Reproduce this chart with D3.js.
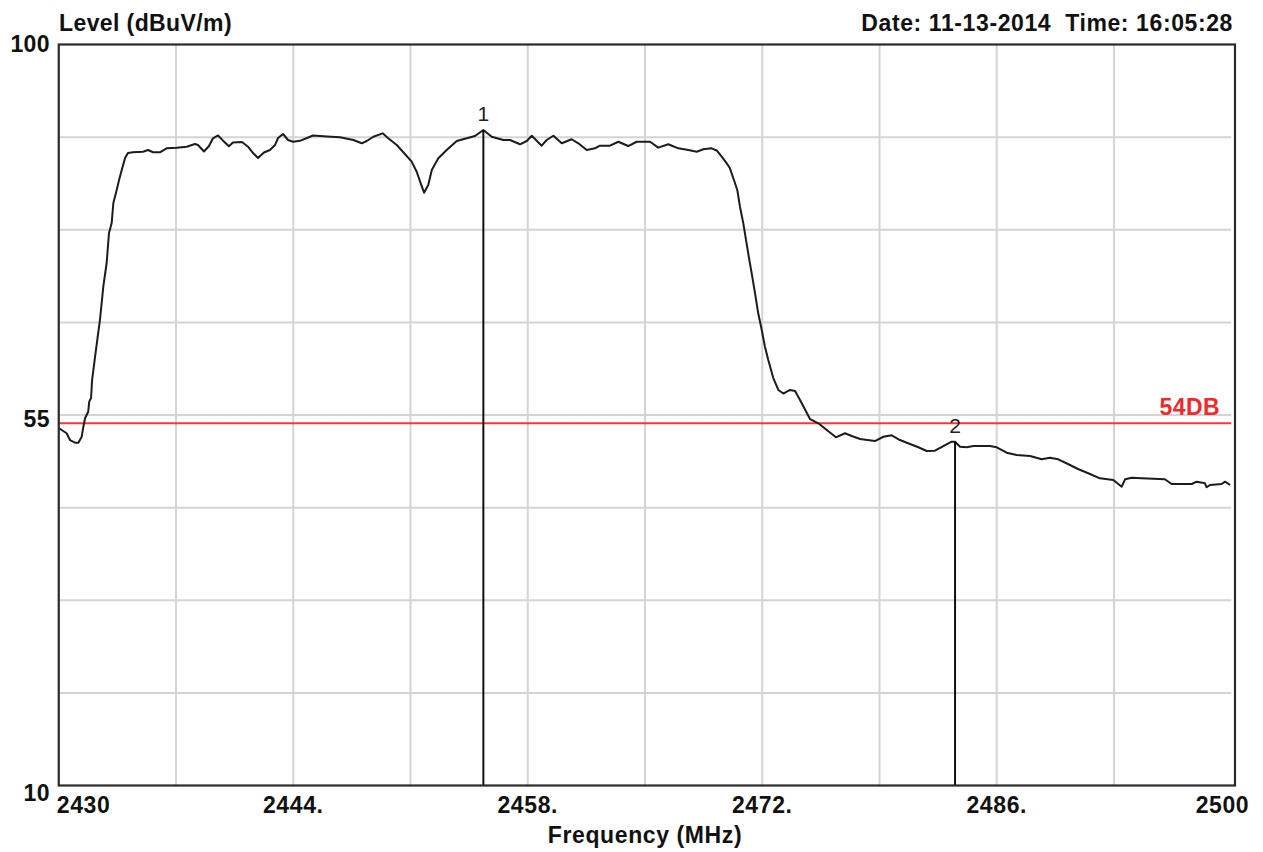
<!DOCTYPE html>
<html>
<head>
<meta charset="utf-8">
<script src="https://cdn.jsdelivr.net/npm/d3@7"></script>
<style>
  html, body { margin: 0; padding: 0; background: #fff; }
  svg { display: block; }
  text { font-family: "Liberation Sans", Arial, sans-serif; }
</style>
</head>
<body>
<svg id="chart" width="1263" height="852"></svg>
<script>
// ---- data ----
const freq = [
  2430.01,2430.13,2430.47,2430.67,2430.97,2431.17,2431.37,2431.47,2431.57,2431.76,
  2431.82,2431.93,2431.99,2432.22,2432.46,2432.66,2432.86,2433.00,2433.16,2433.26,
  2433.46,2433.60,2433.76,2433.96,2434.13,2434.43,2435.03,2435.33,2435.63,2436.04,
  2436.44,2437.04,2437.64,2438.13,2438.31,2438.67,2438.97,2439.21,2439.51,2439.81,
  2440.16,2440.40,2440.94,2441.30,2441.60,2441.90,2442.25,2442.61,2442.91,2443.09,
  2443.39,2443.69,2443.99,2444.40,2444.82,2445.18,2446.01,2446.79,2447.59,2448.09,
  2448.39,2448.78,2449.34,2449.67,2450.18,2450.57,2451.07,2451.37,2451.61,2451.81,
  2452.06,2452.27,2452.66,2453.16,2453.76,2454.36,2454.85,2455.35,2455.85,2456.54,
  2456.94,2457.54,2457.94,2458.24,2458.83,2459.13,2459.53,2460.03,2460.62,2461.02,
  2461.52,2462.01,2462.31,2462.91,2463.41,2464.00,2464.50,2465.30,2465.79,2466.39,
  2466.99,2467.59,2468.09,2468.48,2468.98,2469.28,2469.58,2469.88,2470.07,2470.31,
  2470.51,2470.67,2470.87,2471.03,2471.23,2471.37,2471.57,2471.76,2471.97,2472.16,
  2472.36,2472.66,2472.96,2473.26,2473.66,2473.96,2474.36,2474.85,2475.35,2475.85,
  2476.40,2476.94,2477.34,2477.84,2478.73,2479.23,2479.73,2480.22,2480.82,2481.32,
  2481.82,2482.31,2482.81,2483.31,2483.51,2483.81,2484.21,2484.60,2485.60,2486.00,
  2486.59,2487.19,2487.99,2488.68,2489.18,2489.67,2490.25,2490.85,2491.57,2492.16,
  2492.96,2493.46,2493.66,2494.06,2494.65,2496.04,2496.44,2497.64,2497.94,2498.43,
  2498.53,2498.73,2499.43,2499.63,2499.93
];
const level = [
  53.42,53.24,52.78,51.96,51.64,51.64,52.36,53.58,54.60,55.40,
  56.62,57.06,59.25,62.89,66.54,70.58,73.46,77.11,78.32,80.75,
  82.33,83.54,84.76,86.21,86.82,86.91,86.98,87.19,86.91,86.91,
  87.39,87.47,87.59,87.91,87.79,87.00,87.67,88.61,88.95,88.32,
  87.64,88.10,88.16,87.59,86.82,86.21,86.88,87.19,87.79,88.64,
  89.13,88.40,88.19,88.30,88.64,88.95,88.83,88.73,88.40,88.00,
  88.28,88.80,89.21,88.61,87.79,86.91,85.77,84.55,83.14,82.00,
  82.94,84.76,86.18,87.19,88.28,88.61,88.89,89.62,88.80,88.40,
  88.40,87.88,88.28,88.92,87.71,88.40,88.92,88.00,88.49,88.00,
  87.19,87.39,87.71,87.71,88.19,87.67,88.19,88.19,87.47,87.88,
  87.39,87.19,86.98,87.27,87.39,87.13,86.37,85.57,84.96,83.54,
  82.33,80.30,78.28,76.26,73.83,72.21,69.78,67.35,65.32,63.30,
  61.68,59.49,58.04,57.61,58.04,57.92,56.42,54.51,53.99,53.18,
  52.29,52.78,52.45,52.09,51.84,52.36,52.53,51.96,51.48,51.08,
  50.63,50.66,51.23,51.76,51.76,51.15,51.08,51.23,51.23,51.08,
  50.42,50.14,50.02,49.62,49.81,49.62,49.05,48.44,47.83,47.31,
  47.11,46.29,47.19,47.38,47.31,47.19,46.62,46.62,46.90,46.70,
  46.22,46.50,46.62,46.90,46.50
];
const markerNames = ["1", "2"];
const markerFreq = [2455.35, 2483.51];
const markerLevel = [89.62, 51.76];
const limitLevel = 54;
const limitLabel = "54DB";
const xDomain = [2430, 2500];
const yDomain = [10, 100];
const xGridValues = [2437, 2444, 2451, 2458, 2465, 2472, 2479, 2486, 2493];
const yGridValues = [21.25, 32.5, 43.75, 55, 66.25, 77.5, 88.75];
const xTickValues = [2430, 2444, 2458, 2472, 2486, 2500];
const xTickLabels = ["2430", "2444.", "2458.", "2472.", "2486.", "2500"];
const yTickValues = [10, 55, 100];
const yTickLabels = ["10", "55", "100"];
const yTitle = "Level (dBuV/m)";
const xTitle = "Frequency (MHz)";
const stamp = "Date: 11-13-2014  Time: 16:05:28";

// ---- layout ----
const L = 58.75, R = 1231.25, T = 44.5, B = 785.5, frameR = 1235;
const x = d3.scaleLinear().domain(xDomain).range([L, R]);
const y = d3.scaleLinear().domain(yDomain).range([B, T]);
const svg = d3.select("#chart");
const FONT = 23;

// grid
const grid = svg.append("g").attr("stroke", "#d4d4d4").attr("stroke-width", 2);
grid.selectAll("line.v").data(xGridValues).join("line")
  .attr("x1", d => x(d)).attr("x2", d => x(d)).attr("y1", T).attr("y2", B);
grid.selectAll("line.h").data(yGridValues).join("line")
  .attr("x1", L).attr("x2", R).attr("y1", d => y(d)).attr("y2", d => y(d));

// limit line
svg.append("line")
  .attr("x1", L).attr("x2", R).attr("y1", y(limitLevel)).attr("y2", y(limitLevel))
  .attr("stroke", "#f03a3a").attr("stroke-width", 2);
svg.append("text")
  .attr("x", 1220).attr("y", y(limitLevel) - 8)
  .attr("text-anchor", "end").attr("font-size", FONT).attr("font-weight", "bold")
  .attr("fill", "#ee2a2a").attr("letter-spacing", 0.4)
  .text(limitLabel);

// trace
const pts = freq.map((f, i) => [f, level[i]]);
svg.append("path")
  .datum(pts)
  .attr("fill", "none").attr("stroke", "#1c1c1c").attr("stroke-width", 2)
  .attr("stroke-linejoin", "round")
  .attr("d", d3.line().x(d => x(d[0])).y(d => y(d[1])));

// markers
const mk = markerNames.map((n, i) => ({ n, f: markerFreq[i], v: markerLevel[i] }));
svg.selectAll("line.mk").data(mk).join("line")
  .attr("x1", d => x(d.f)).attr("x2", d => x(d.f))
  .attr("y1", d => y(d.v)).attr("y2", B)
  .attr("stroke", "#111").attr("stroke-width", 2);
svg.selectAll("text.mk").data(mk).join("text")
  .attr("x", d => x(d.f)).attr("y", d => y(d.v) - 9)
  .attr("text-anchor", "middle").attr("font-size", 21).attr("fill", "#222")
  .text(d => d.n);

// frame
svg.append("rect")
  .attr("x", L).attr("y", T).attr("width", frameR - L).attr("height", B - T)
  .attr("fill", "none").attr("stroke", "#2a2a2a").attr("stroke-width", 2.2);

// x tick labels
svg.selectAll("text.xt").data(xTickValues).join("text")
  .attr("x", (d, i) => i === 0 ? x(d) - 2 : (i === xTickValues.length - 1 ? x(d) + 18 : x(d)))
  .attr("y", 813)
  .attr("text-anchor", (d, i) => i === 0 ? "start" : (i === xTickValues.length - 1 ? "end" : "middle"))
  .attr("font-size", FONT).attr("font-weight", "bold").attr("fill", "#111")
  .attr("letter-spacing", 0.6)
  .text((d, i) => xTickLabels[i]);

// y tick labels
svg.selectAll("text.yt").data(yTickValues).join("text")
  .attr("x", 50)
  .attr("y", d => y(d) + 15.5 - (d - 10) / 90 * 8)
  .attr("text-anchor", "end")
  .attr("font-size", FONT).attr("font-weight", "bold").attr("fill", "#111")
  .attr("letter-spacing", 0.4)
  .text((d, i) => yTickLabels[i]);

// titles
svg.append("text").attr("x", 59).attr("y", 31)
  .attr("font-size", FONT).attr("font-weight", "bold").attr("fill", "#111")
  .attr("letter-spacing", 0.4)
  .text(yTitle);
svg.append("text").attr("x", 1233).attr("y", 31)
  .attr("text-anchor", "end").style("white-space", "pre")
  .attr("font-size", FONT).attr("font-weight", "bold").attr("fill", "#111")
  .attr("letter-spacing", 0.6)
  .text(stamp);
svg.append("text").attr("x", 645).attr("y", 843)
  .attr("text-anchor", "middle")
  .attr("font-size", FONT).attr("font-weight", "bold").attr("fill", "#111")
  .attr("letter-spacing", 0.6)
  .text(xTitle);
</script>
</body>
</html>
